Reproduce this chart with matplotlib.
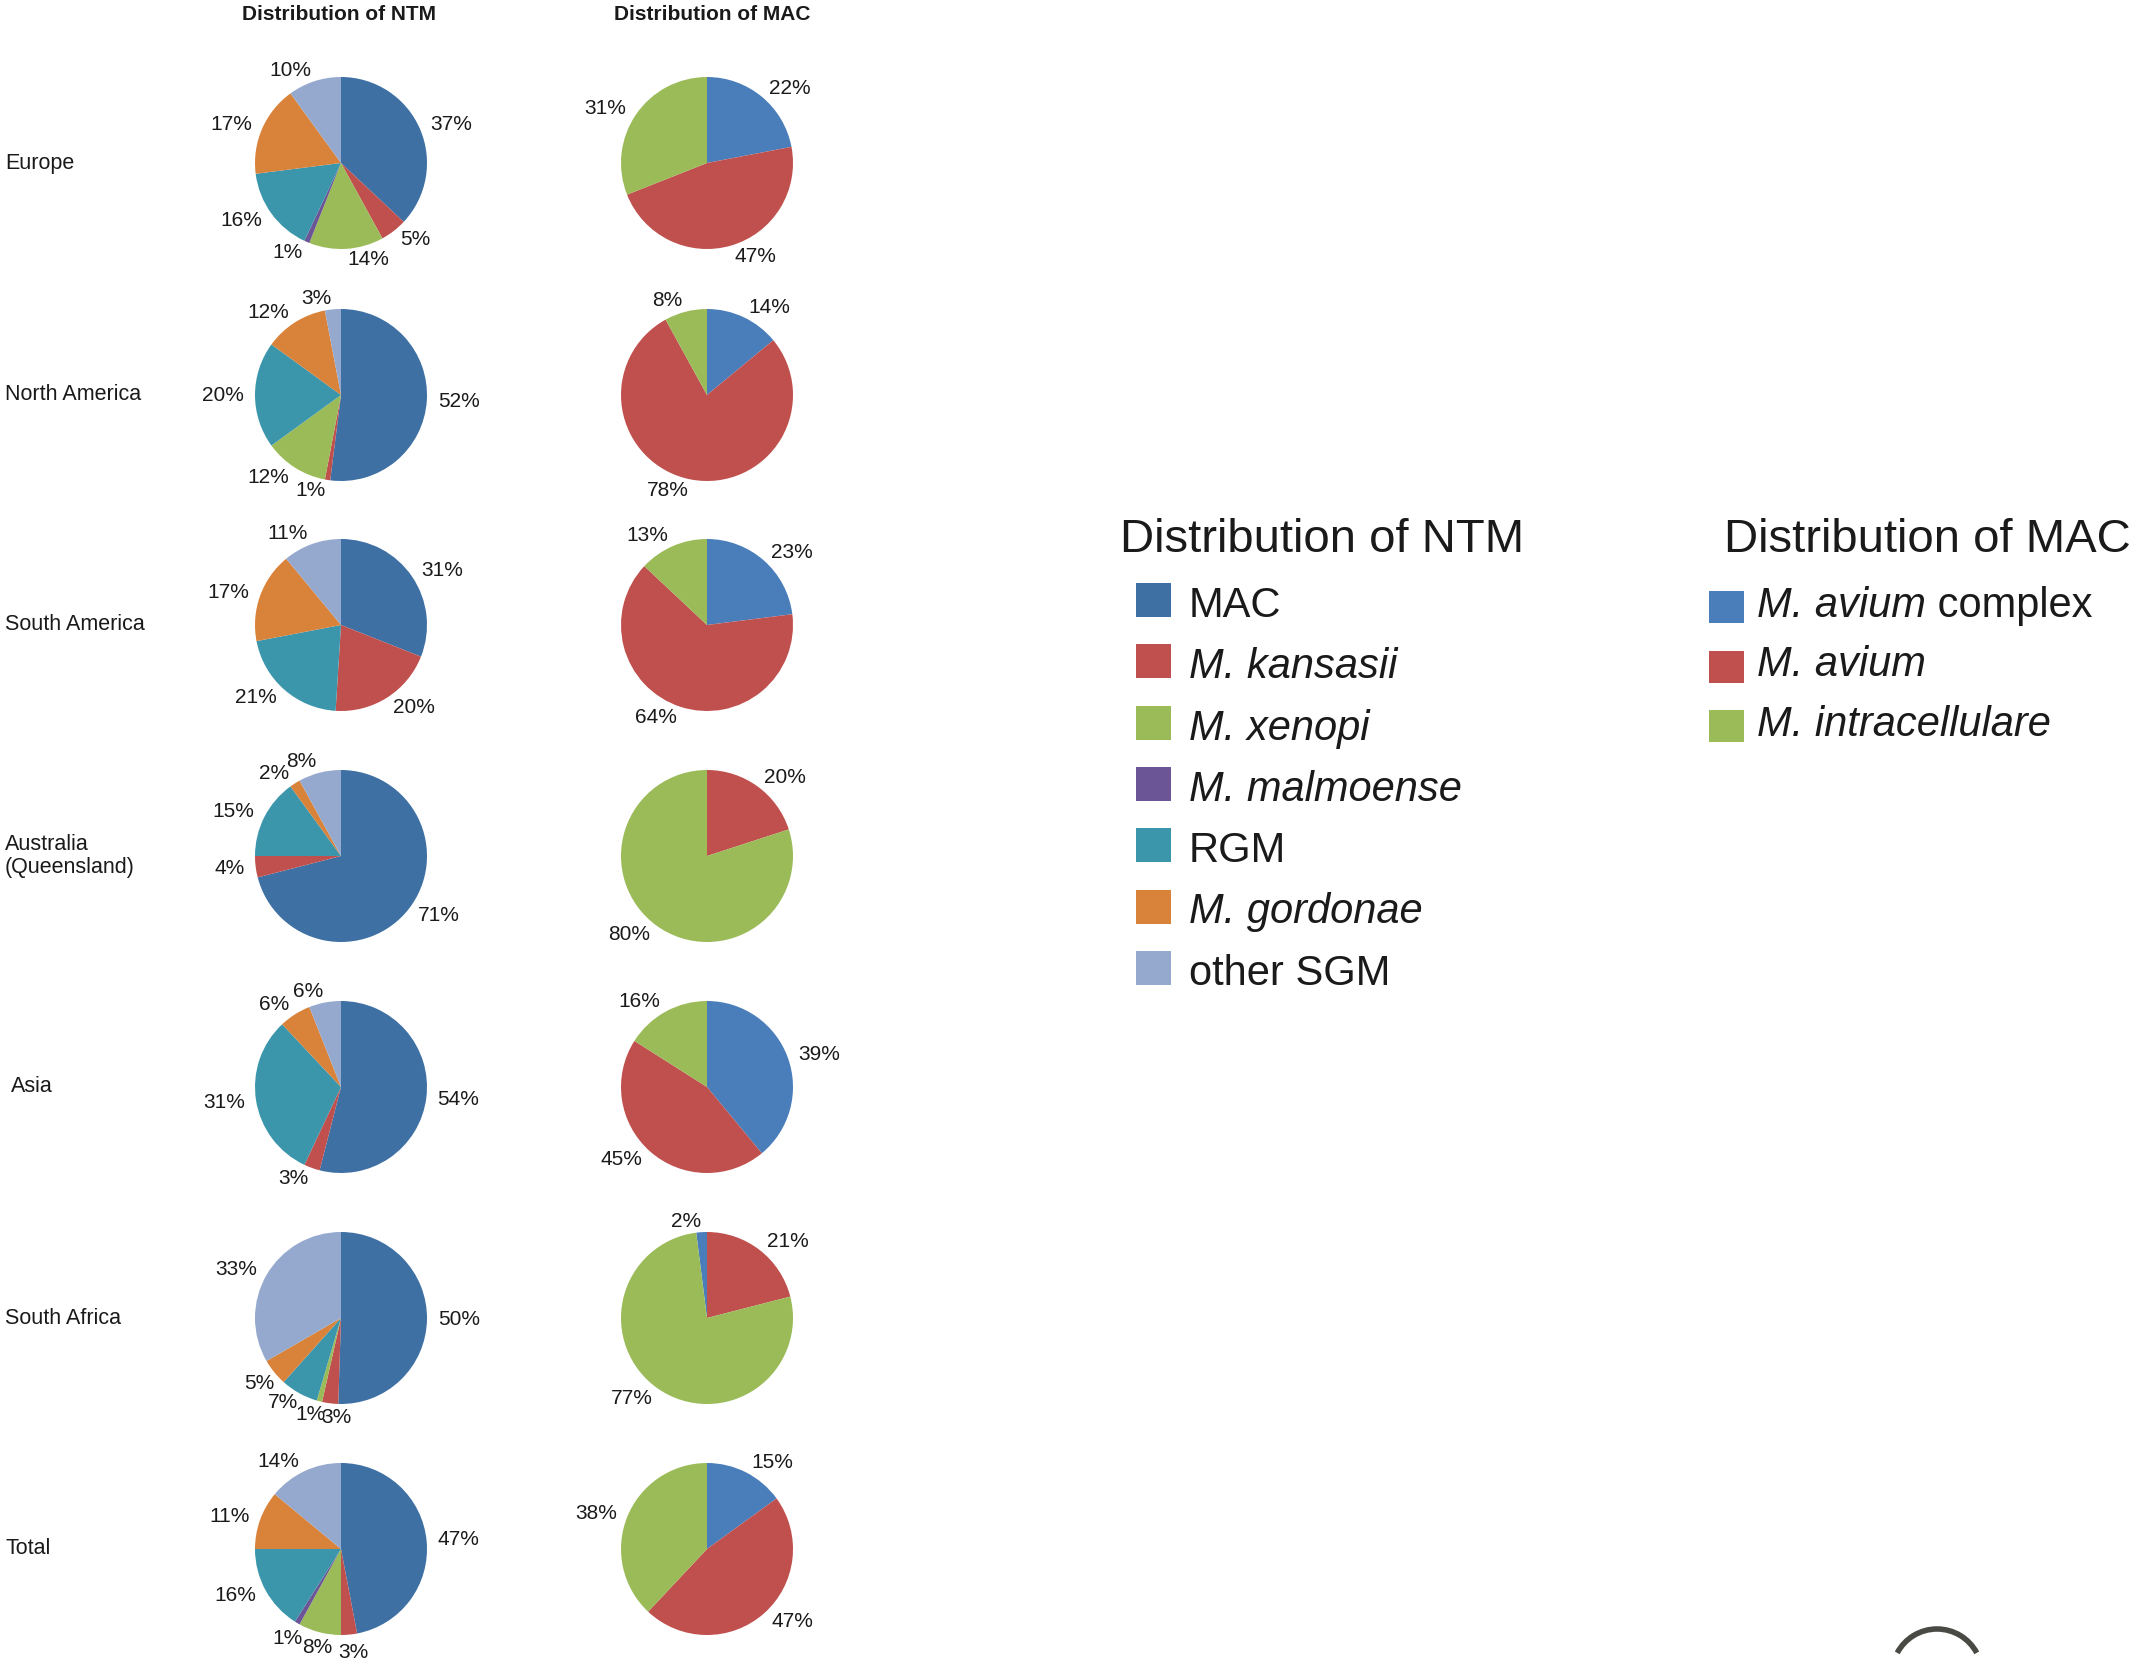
import matplotlib
matplotlib.use('Agg')
import matplotlib.pyplot as plt
from matplotlib import font_manager
from matplotlib.patches import Rectangle, Arc


# Dati (percentuali)
regions = ['Europe', 'North America', 'South America', 'Australia\n(Queensland)',
           'Asia', 'South Africa', 'Total']

ntm_names = ['MAC', 'M. kansasii', 'M. xenopi', 'M. malmoense', 'RGM', 'M. gordonae', 'other SGM']
ntm_mac = [37, 52, 31, 71, 54, 50, 47]
ntm_kansasii = [5, 1, 20, 4, 3, 3, 3]
ntm_xenopi = [14, 12, 0, 0, 0, 1, 8]
ntm_malmoense = [1, 0, 0, 0, 0, 0, 1]
ntm_rgm = [16, 20, 21, 15, 31, 7, 16]
ntm_gordonae = [17, 12, 17, 2, 6, 5, 11]
ntm_other = [10, 3, 11, 8, 6, 33, 14]

mac_names = ['M. avium complex', 'M. avium', 'M. intracellulare']
mac_complex = [22, 14, 23, 0, 39, 2, 15]
mac_avium = [47, 78, 64, 20, 45, 21, 47]
mac_intra = [31, 8, 13, 80, 16, 77, 38]

# parte in corsivo di ogni voce di legenda (il resto e' in tondo)
ntm_italic = ['', 'M. kansasii', 'M. xenopi', 'M. malmoense', '', 'M. gordonae', '']
mac_italic = ['M. avium', 'M. avium', 'M. intracellulare']

ntm_colors = ['#3E70A4', '#C0504D', '#9BBB59', '#6B5596', '#3B96AB', '#D9823A', '#95A9CF']
mac_colors = ['#4A7EBB', '#C0504D', '#9BBB59']

# scelta del font
names = {f.name for f in font_manager.fontManager.ttflist}
base = 'Liberation Sans' if 'Liberation Sans' in names else 'DejaVu Sans'
plt.rcParams['font.family'] = [base, 'DejaVu Sans']

W, H = 2135, 1663
fig = plt.figure(figsize=(W / 100, H / 100), dpi=100)

# asse "pixel" per testi e legende
ax0 = fig.add_axes([0, 0, 1, 1])
ax0.set_xlim(0, W)
ax0.set_ylim(H, 0)
ax0.axis('off')

txt = '#1a1a1a'

# posizioni delle torte (pixel)
ntm_cx, mac_cx = 341, 707
row_cy = [163, 395, 625, 856, 1087, 1318, 1549]
R = 86
S = 1.6
label_x = [5, 5, 5, 5, 11, 5, 5]

# South Africa: blue slice ends at 12 o'clock
mac_start = [90, 90, 90, 90, 90, 90 + 360 * 2 / 100, 90]

# etichette spostate a mano come nell'originale: (riga, indice fetta) -> (x, y) in raggi
ntm_label_fix = {
    (5, 5): (-0.95, -0.76), (5, 4): (-0.68, -0.98), (5, 2): (-0.36, -1.12), (5, 1): (-0.05, -1.16),
    (6, 3): (-0.62, -1.04), (6, 2): (-0.28, -1.15), (6, 1): (0.14, -1.2),
}


def draw_pie(cx, cy, values, colors, start, fixes):
    ax = fig.add_axes([(cx - R * S) / W, 1 - (cy + R * S) / H, 2 * R * S / W, 2 * R * S / H])
    labels = [f'{v}%' if v else '' for v in values]
    wedges, texts = ax.pie(values, colors=colors, labels=labels, startangle=start,
                           counterclock=False, labeldistance=1.13, radius=1,
                           wedgeprops=dict(linewidth=0),
                           textprops=dict(fontsize=15, color=txt))
    for j, pos in fixes.items():
        texts[j].set_position(pos)
        texts[j].set_horizontalalignment('center')
    ax.set_xlim(-S, S)
    ax.set_ylim(-S, S)
    ax.set_aspect('equal')
    ax.axis('off')


for i in range(len(regions)):
    ntm_vals = [ntm_mac[i], ntm_kansasii[i], ntm_xenopi[i], ntm_malmoense[i],
                ntm_rgm[i], ntm_gordonae[i], ntm_other[i]]
    mac_vals = [mac_complex[i], mac_avium[i], mac_intra[i]]
    fixes = {j: p for (r, j), p in ntm_label_fix.items() if r == i}
    draw_pie(ntm_cx, row_cy[i], ntm_vals, ntm_colors, 90, fixes)
    draw_pie(mac_cx, row_cy[i], mac_vals, mac_colors, mac_start[i], {})
    ax0.text(label_x[i], row_cy[i], regions[i], fontsize=15.5, color=txt,
             ha='left', va='center', linespacing=1.1)

# titoli colonne
ax0.text(339, 14, 'Distribution of NTM', fontsize=15, fontweight='bold', color=txt,
         ha='center', va='center')
ax0.text(712, 14, 'Distribution of MAC', fontsize=15, fontweight='bold', color=txt,
         ha='center', va='center')

renderer = fig.canvas.get_renderer()


def legend_entry(x, y, name, italic_part):
    # testo con parte iniziale in corsivo e resto in tondo
    rest = name[len(italic_part):]
    if italic_part:
        t = ax0.text(x, y, italic_part, fontsize=30, color=txt, ha='left', va='baseline',
                     fontstyle='italic')
        bb = t.get_window_extent(renderer).transformed(ax0.transData.inverted())
        x = max(bb.x0, bb.x1)
    if rest:
        ax0.text(x, y, rest, fontsize=30, color=txt, ha='left', va='baseline')


# legenda NTM
ax0.text(1120, 552, 'Distribution of NTM', fontsize=34, color=txt, ha='left', va='baseline')
for k in range(len(ntm_names)):
    base_y = 617 + k * 61.3
    ax0.add_patch(Rectangle((1136, base_y - 34), 35, 34, color=ntm_colors[k], lw=0))
    legend_entry(1189, base_y, ntm_names[k], ntm_italic[k])

# legenda MAC
ax0.text(1724, 552, 'Distribution of MAC', fontsize=34, color=txt, ha='left', va='baseline')
for k in range(len(mac_names)):
    base_y = 617 + k * 59.5
    ax0.add_patch(Rectangle((1709, base_y - 26), 35, 32, color=mac_colors[k], lw=0))
    legend_entry(1757, base_y, mac_names[k], mac_italic[k])

# frammento di logo in basso a destra
ax0.add_patch(Arc((1937, 1674), 90, 90, theta1=208, theta2=332, color='#4a4a45', lw=4))

fig.savefig('out.png', dpi=100)
